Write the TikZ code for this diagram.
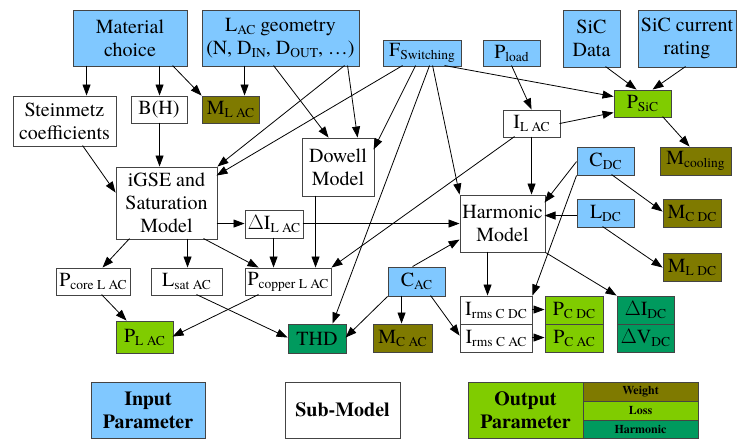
\documentclass[tikz,border=0pt]{standalone}
\usepackage{fontspec}
\setmainfont{texgyretermes}[Extension=.otf, UprightFont=*-regular, BoldFont=*-bold, ItalicFont=*-italic, BoldItalicFont=*-bolditalic]
\usetikzlibrary{arrows.meta}
\definecolor{inblue}{HTML}{80C8FF}
\definecolor{outgreen}{HTML}{80CC00}
\definecolor{wolive}{HTML}{7F7A00}
\definecolor{hgreen}{HTML}{009A5E}
\definecolor{bord}{HTML}{444444}
\newcommand{\sbs}[1]{\raisebox{-3pt}{\fontsize{13.5}{14}\selectfont #1}}
\newcommand{\nbox}[7]{\node[#1, minimum width={(#5-#3)*1pt}, minimum height={(#6-#4)*1pt}] (#2) at ({(#3+#5)/2},{(#4+#6)/2}) {#7};}
\begin{document}
\begin{tikzpicture}[x=1pt,y=-1pt,
  box/.style={draw=bord, line width=0.9pt, inner sep=0pt, align=center, font=\fontsize{20}{23}\selectfont},
  inp/.style={box, fill=inblue},
  subm/.style={box, fill=white},
  wgt/.style={box, fill=wolive},
  los/.style={box, fill=outgreen},
  har/.style={box, fill=hgreen},
  leg/.style={font=\fontsize{20}{23}\selectfont\bfseries},
  legs/.style={font=\fontsize{12}{13}\selectfont\bfseries},
  arr/.style={draw=black, line width=0.8pt, -{Triangle[length=11pt,width=8pt]}},
]
\useasboundingbox (0,0) rectangle (737,439);
% input parameters
\nbox{inp}{mat}{73}{10}{187}{66}{Material\\choice}
\nbox{inp}{geo}{202}{10}{359}{66}{L\sbs{AC} geometry\\(N, D\sbs{IN}, D\sbs{OUT}, \ldots)}
\nbox{inp}{sicd}{563}{10}{620}{67}{SiC\\Data}
\nbox{inp}{sicr}{638}{10}{736}{67}{SiC current\\rating}
\nbox{inp}{fsw}{383}{40}{461}{66}{F\sbs{Switching}}
\nbox{inp}{pload}{483}{40}{540}{66}{P\sbs{load}}
\nbox{inp}{cdc}{577}{147}{634}{175}{C\sbs{DC}}
\nbox{inp}{ldc}{577}{199}{634}{227}{L\sbs{DC}}
\nbox{inp}{cac}{388}{267}{445}{296}{C\sbs{AC}}
% sub-models
\nbox{subm}{stein}{13}{96}{116}{146}{Steinmetz\\coefficients}
\nbox{subm}{bh}{131}{96}{187}{123}{B(H)}
\nbox{subm}{ilac}{503}{110}{560}{137}{I\sbs{L AC}}
\nbox{subm}{dowell}{302}{138}{374}{196}{Dowell\\Model}
\nbox{subm}{igse}{116}{167}{217}{239}{iGSE and\\Saturation\\Model}
\nbox{subm}{harm}{460}{195}{545}{252}{Harmonic\\Model}
\nbox{subm}{dilac}{245}{210}{303}{238}{$\Delta$I\sbs{L AC}}
\nbox{subm}{pcore}{56}{268}{130}{295}{P\sbs{core L AC}}
\nbox{subm}{lsat}{151}{268}{222}{295}{L\sbs{sat AC}}
\nbox{subm}{pcopper}{245}{268}{331}{295}{P\sbs{copper L AC}}
\nbox{subm}{irmsdc}{460}{296}{532}{324}{I\sbs{rms C DC}}
\nbox{subm}{irmsac}{460}{324}{532}{352}{I\sbs{rms C AC}}
% outputs
\nbox{wgt}{mlac}{202}{96}{259}{123}{M\sbs{L AC}}
\nbox{los}{psic}{614}{90}{671}{117}{P\sbs{SiC}}
\nbox{wgt}{mcool}{660}{147}{731}{175}{M\sbs{cooling}}
\nbox{wgt}{mcdc}{663}{199}{721}{227}{M\sbs{C DC}}
\nbox{wgt}{mldc}{663}{253}{721}{281}{M\sbs{L DC}}
\nbox{los}{pcdc}{545}{296}{603}{324}{P\sbs{C DC}}
\nbox{los}{pcac}{545}{324}{603}{352}{P\sbs{C AC}}
\nbox{har}{didc}{617}{296}{674}{324}{$\Delta$I\sbs{DC}}
\nbox{har}{dvdc}{617}{324}{674}{352}{$\Delta$V\sbs{DC}}
\nbox{wgt}{mcac}{373}{324}{432}{352}{M\sbs{C AC}}
\nbox{los}{plac}{116}{321}{173}{353}{P\sbs{L AC}}
\nbox{har}{thd}{288}{324}{346}{353}{THD}
% legend
\nbox{inp,leg}{legin}{91}{382}{205}{438}{Input\\Parameter}
\nbox{subm,leg}{legsub}{285}{382}{400}{438}{Sub-Model}
\nbox{los,leg}{legout}{468}{382}{583}{438}{Output\\Parameter}
\nbox{wgt,legs}{legw}{583}{382}{698}{401}{Weight}
\nbox{los,legs}{legl}{583}{401}{698}{420}{Loss}
\nbox{har,legs}{legh}{583}{420}{698}{438}{Harmonic}
% connectors
\draw[arr] ([shift={(14,56)}]mat.north west) -- ([shift={(74,0)}]stein.north west);
\draw[arr] ([shift={(87,56)}]mat.north west) -- ([shift={(29,0)}]bh.north west);
\draw[arr] ([shift={(100,56)}]mat.north west) -- (mlac.north west);
\draw[arr] ([shift={(43,56)}]geo.north west) -- ([shift={(43,0)}]mlac.north west);
\draw[arr] ([shift={(72,56)}]geo.north west) -- ([shift={(27,0)}]dowell.north west);
\draw[arr] ([shift={(146,56)}]geo.north west) -- ([shift={(56,0)}]dowell.north west);
\draw[arr] ([shift={(143,56)}]geo.north west) -- (igse.north east);
\draw[arr] ([shift={(20,26)}]fsw.north west) -- ([shift={(101,9)}]igse.north west);
\draw[arr] ([shift={(33,26)}]fsw.north west) -- ([shift={(72,12)}]dowell.north west);
\draw[arr] ([shift={(47,26)}]fsw.north west) -- ([shift={(45,0)}]thd.north west);
\draw[arr] ([shift={(50,26)}]fsw.north west) -- (harm.north west);
\draw[arr] ([shift={(62,26)}]fsw.north west) -- ([shift={(0,7)}]psic.north west);
\draw[arr] ([shift={(29,26)}]pload.north west) -- ([shift={(29,0)}]ilac.north west);
\draw[arr] ([shift={(43,57)}]sicd.north west) -- ([shift={(23,0)}]psic.north west);
\draw[arr] ([shift={(48,57)}]sicr.north west) -- ([shift={(39,0)}]psic.north west);
\draw[arr] ([shift={(49,27)}]psic.north west) -- ([shift={(30,0)}]mcool.north west);
\draw[arr] ([shift={(57,14)}]ilac.north west) -- ([shift={(0,23)}]psic.north west);
\draw[arr] ([shift={(29,27)}]ilac.north west) -- ([shift={(72,0)}]harm.north west);
\draw[arr] ([shift={(12,27)}]ilac.north west) -- (pcopper.north east);
\draw[arr] ([shift={(70,50)}]stein.north west) -- ([shift={(0,26)}]igse.north west);
\draw[arr] ([shift={(29,27)}]bh.north west) -- ([shift={(44,0)}]igse.north west);
\draw[arr] ([shift={(101,57)}]igse.north west) -- ([shift={(0,14)}]dilac.north west);
\draw[arr] ([shift={(58,14)}]dilac.north west) -- ([shift={(0,29)}]harm.north west);
\draw[arr] ([shift={(14,72)}]igse.north west) -- ([shift={(47,0)}]pcore.north west);
\draw[arr] ([shift={(72,72)}]igse.north west) -- ([shift={(37,0)}]lsat.north west);
\draw[arr] ([shift={(88,72)}]igse.north west) -- ([shift={(14,0)}]pcopper.north west);
\draw[arr] ([shift={(29,28)}]dilac.north west) -- ([shift={(29,0)}]pcopper.north west);
\draw[arr] ([shift={(14,58)}]dowell.north west) -- ([shift={(71,0)}]pcopper.north west);
\draw[arr] ([shift={(46,27)}]pcore.north west) -- ([shift={(11,0)}]plac.north west);
\draw[arr] ([shift={(14,27)}]pcopper.north west) -- ([shift={(57,16)}]plac.north west);
\draw[arr] ([shift={(46,27)}]lsat.north west) -- ([shift={(0,14)}]thd.north west);
\draw[arr] ([shift={(25,0)}]cac.north west) -- ([shift={(0,45)}]harm.north west);
\draw[arr] (cac.south west) -- ([shift={(58,14)}]thd.north west);
\draw[arr] ([shift={(14,29)}]cac.north west) -- ([shift={(29,0)}]mcac.north west);
\draw[arr] ([shift={(43,29)}]cac.north west) -- ([shift={(0,12)}]irmsac.north west);
\draw[arr] ([shift={(28,57)}]harm.north west) -- ([shift={(28,0)}]irmsdc.north west);
\draw[arr] (harm.south east) -- (didc.north west);
\draw[arr] ([shift={(0,15)}]cdc.north west) -- ([shift={(85,8)}]harm.north west);
\draw[arr] (cdc.south west) -- (irmsdc.north east);
\draw[arr] ([shift={(0,17)}]ldc.north west) -- ([shift={(85,21)}]harm.north west);
\draw[arr] ([shift={(35,28)}]cdc.north west) -- ([shift={(0,13)}]mcdc.north west);
\draw[arr] ([shift={(26,28)}]ldc.north west) -- ([shift={(0,15)}]mldc.north west);
\draw[arr] ([shift={(72,14)}]irmsdc.north west) -- ([shift={(0,14)}]pcdc.north west);
\draw[arr] ([shift={(72,14)}]irmsac.north west) -- ([shift={(0,14)}]pcac.north west);
\end{tikzpicture}
\end{document}
